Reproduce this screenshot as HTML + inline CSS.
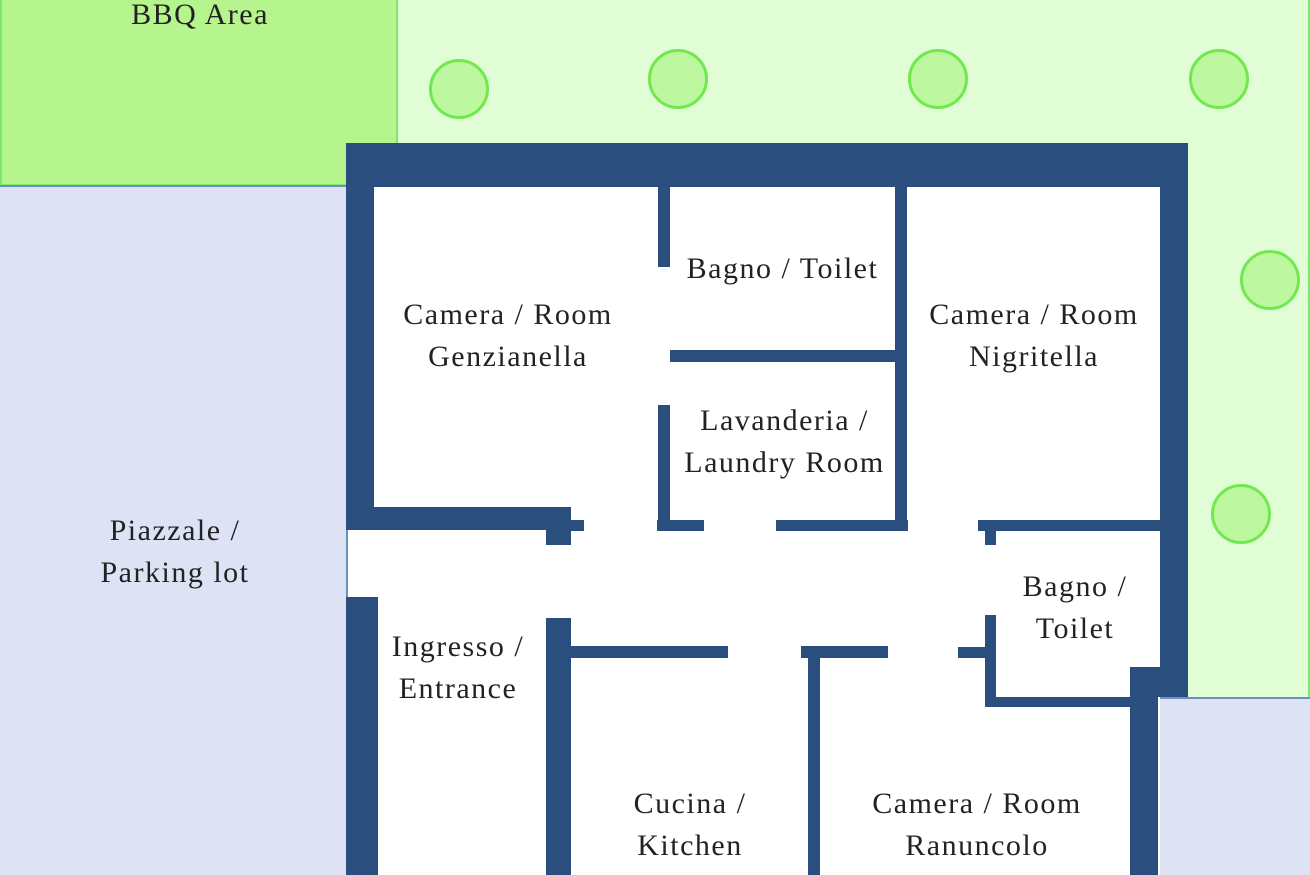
<!DOCTYPE html>
<html><head><meta charset="utf-8"><style>
body{margin:0;width:1310px;height:875px;overflow:hidden;position:relative;background:#fff;font-family:"Liberation Serif",serif}
div{position:absolute;box-sizing:border-box}
.w{background:#2a4f7e}
.t{color:#222;font-size:30px;letter-spacing:1.5px;text-align:center;line-height:42px;white-space:nowrap;margin-top:-2px}
.c{width:60px;height:60px;border-radius:50%;background:#bdf7a0;border:3px solid #72e84f}
</style></head><body>
<div style="left:0;top:0;width:1310px;height:697px;background:#e0fdd6;border-right:2px solid #7fe86a"></div>
<div style="left:0;top:0;width:398px;height:186px;background:#b6f48e;border:2px solid #7fe86a;border-top:none"></div>
<div style="left:0;top:185px;width:348px;height:690px;background:#dde3f4;border:2px solid #6d8fc0;border-left:none;border-bottom:none"></div>
<div style="left:1158px;top:697px;width:152px;height:178px;background:#dde3f4;border-top:2px solid #6d8fc0;border-left:2px solid #6d8fc0"></div>
<div style="left:348px;top:187px;width:812px;height:688px;background:#fff"></div>
<div style="left:1130px;top:667px;width:30px;height:30px;background:#fff"></div>

<div class="c" style="left:429px;top:59px"></div>
<div class="c" style="left:648px;top:49px"></div>
<div class="c" style="left:908px;top:49px"></div>
<div class="c" style="left:1189px;top:49px"></div>
<div class="c" style="left:1240px;top:250px"></div>
<div class="c" style="left:1211px;top:484px"></div>

<div class="w" style="left:346px;top:143px;width:842px;height:44px"></div>
<div class="w" style="left:346px;top:143px;width:28px;height:387px"></div>
<div class="w" style="left:346px;top:597px;width:32px;height:278px"></div>
<div class="w" style="left:1160px;top:143px;width:28px;height:554px"></div>
<div class="w" style="left:1130px;top:667px;width:58px;height:30px"></div>
<div class="w" style="left:1130px;top:667px;width:28px;height:208px"></div>

<div class="w" style="left:346px;top:507px;width:225px;height:23px"></div>
<div class="w" style="left:546px;top:507px;width:25px;height:38px"></div>
<div class="w" style="left:571px;top:520px;width:13px;height:11px"></div>

<div class="w" style="left:658px;top:187px;width:12px;height:80px"></div>
<div class="w" style="left:658px;top:405px;width:12px;height:126px"></div>
<div class="w" style="left:657px;top:520px;width:47px;height:11px"></div>
<div class="w" style="left:670px;top:350px;width:237px;height:12px"></div>
<div class="w" style="left:895px;top:187px;width:12px;height:344px"></div>
<div class="w" style="left:776px;top:520px;width:132px;height:11px"></div>

<div class="w" style="left:978px;top:520px;width:182px;height:11px"></div>
<div class="w" style="left:985px;top:531px;width:11px;height:14px"></div>
<div class="w" style="left:985px;top:615px;width:11px;height:92px"></div>
<div class="w" style="left:958px;top:647px;width:27px;height:11px"></div>
<div class="w" style="left:985px;top:697px;width:145px;height:10px"></div>

<div class="w" style="left:546px;top:618px;width:25px;height:257px"></div>
<div class="w" style="left:571px;top:646px;width:157px;height:12px"></div>
<div class="w" style="left:801px;top:646px;width:87px;height:12px"></div>
<div class="w" style="left:808px;top:658px;width:12px;height:217px"></div>

<div class="t" style="left:100px;top:-4px;width:200px">BBQ Area</div>
<div class="t" style="left:75px;top:512px;width:200px">Piazzale /<br>Parking lot</div>
<div class="t" style="left:388px;top:296px;width:240px">Camera / Room<br>Genzianella</div>
<div class="t" style="left:670px;top:250px;width:225px">Bagno / Toilet</div>
<div class="t" style="left:672px;top:402px;width:225px">Lavanderia /<br>Laundry Room</div>
<div class="t" style="left:914px;top:296px;width:240px">Camera / Room<br>Nigritella</div>
<div class="t" style="left:1000px;top:568px;width:150px">Bagno /<br>Toilet</div>
<div class="t" style="left:378px;top:628px;width:160px">Ingresso /<br>Entrance</div>
<div class="t" style="left:600px;top:785px;width:180px">Cucina /<br>Kitchen</div>
<div class="t" style="left:857px;top:785px;width:240px">Camera / Room<br>Ranuncolo</div>
</body></html>
